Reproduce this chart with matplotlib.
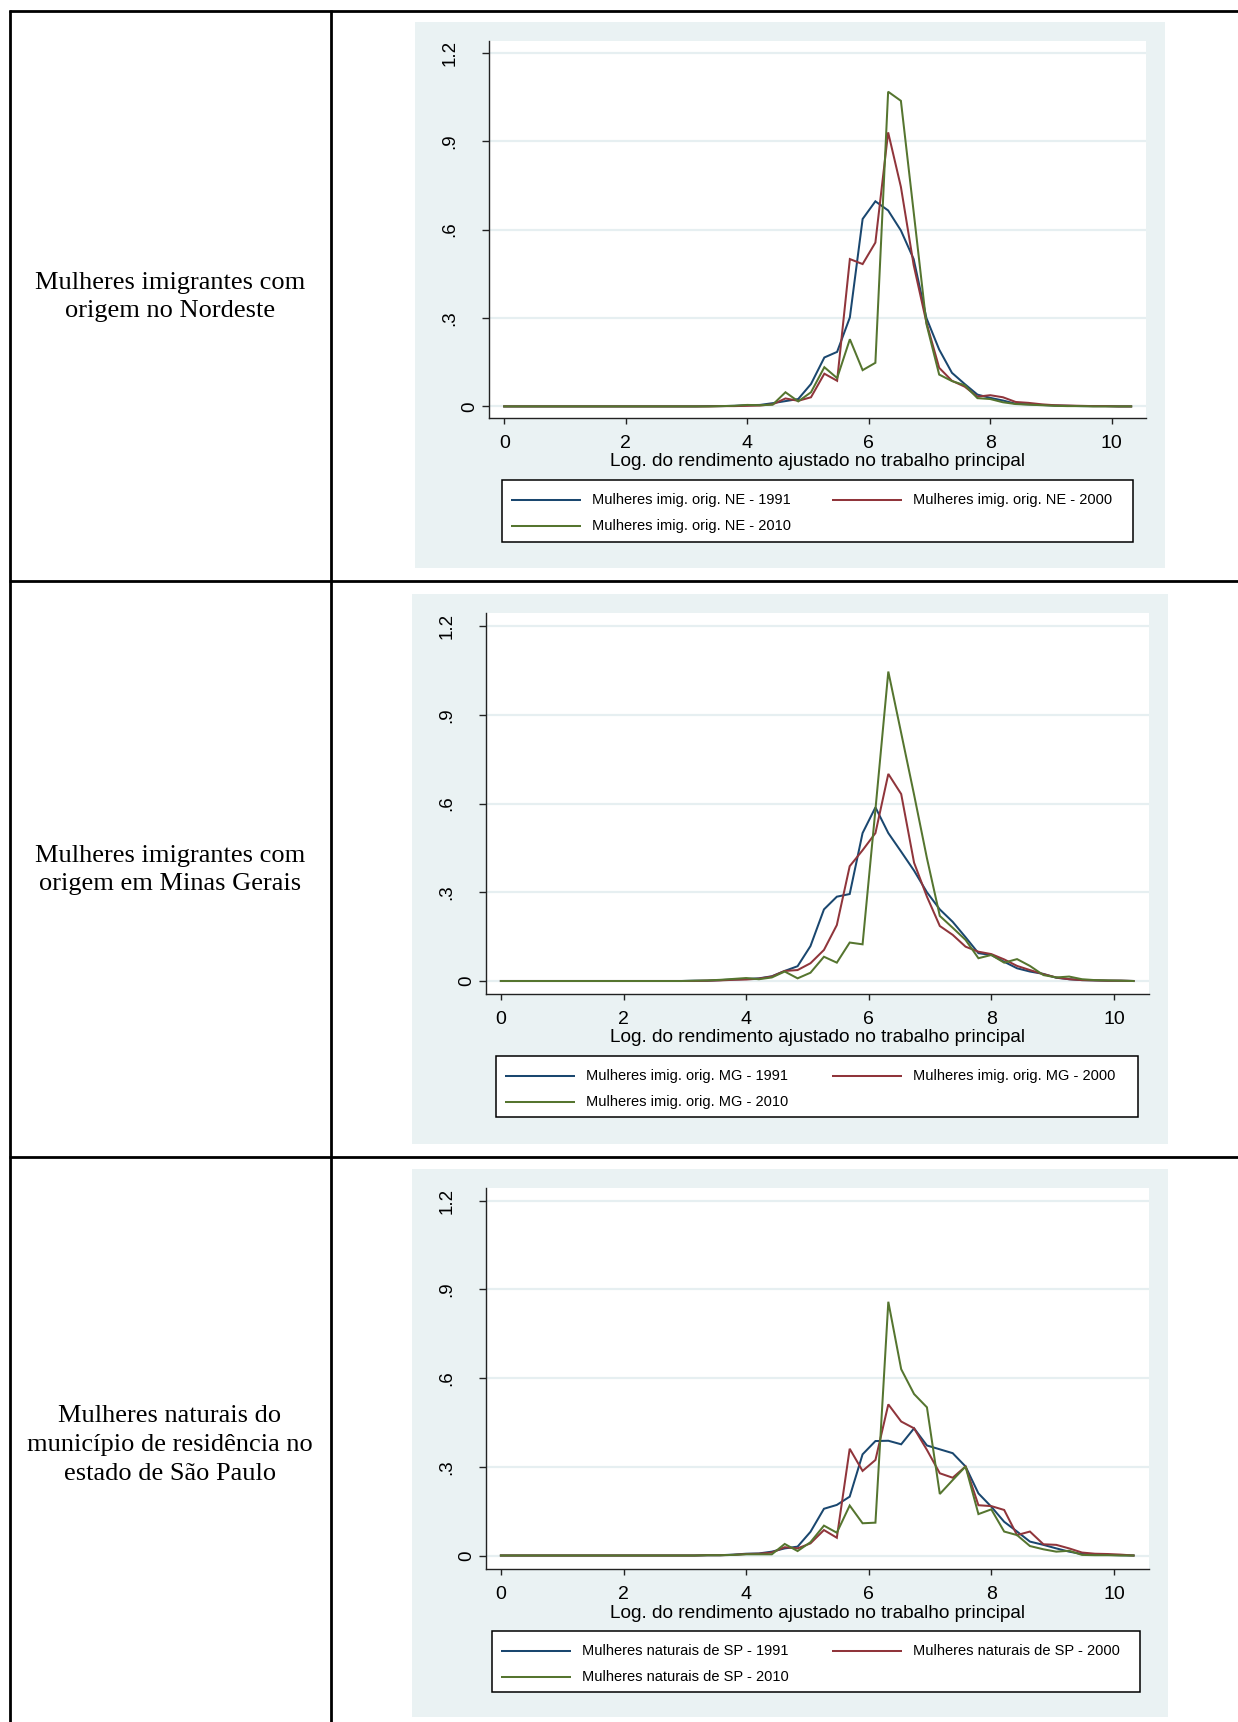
import matplotlib
matplotlib.use("Agg")
import matplotlib.pyplot as plt
from matplotlib.patches import Rectangle

# ---------------------------------------------------------------------------
# Data: kernel density estimates of log adjusted income (50 evaluation points)
# ---------------------------------------------------------------------------
x_grid = [0.00, 0.21, 0.42, 0.63, 0.84, 1.05, 1.26, 1.47, 1.68, 1.90,
          2.11, 2.32, 2.53, 2.74, 2.95, 3.16, 3.37, 3.58, 3.79, 4.00,
          4.21, 4.42, 4.63, 4.84, 5.05, 5.27, 5.48, 5.69, 5.90, 6.11,
          6.32, 6.53, 6.74, 6.95, 7.16, 7.37, 7.58, 7.79, 8.00, 8.21,
          8.42, 8.63, 8.85, 9.06, 9.27, 9.48, 9.69, 9.90, 10.11, 10.32]

ne_1991 = [0, 0, 0, 0, 0, 0, 0, 0, 0, 0, 0, 0, 0, 0, 0, 0.000, 0.001, 0.001, 0.002, 0.004,
           0.005, 0.011, 0.018, 0.025, 0.076, 0.166, 0.185, 0.302, 0.636, 0.696,
           0.665, 0.597, 0.500, 0.300, 0.193, 0.114, 0.076, 0.040, 0.029, 0.020,
           0.009, 0.007, 0.005, 0.003, 0.002, 0.001, 0.001, 0.001, 0.000, 0.000]
ne_2000 = [0, 0, 0, 0, 0, 0, 0, 0, 0, 0, 0, 0, 0, 0, 0, 0.000, 0.000, 0.001, 0.001, 0.002,
           0.003, 0.007, 0.027, 0.019, 0.031, 0.111, 0.087, 0.500, 0.483, 0.556,
           0.930, 0.745, 0.480, 0.285, 0.131, 0.087, 0.067, 0.033, 0.038, 0.031,
           0.015, 0.012, 0.007, 0.004, 0.003, 0.002, 0.001, 0.001, 0.000, 0.000]
ne_2010 = [0, 0, 0, 0, 0, 0, 0, 0, 0, 0, 0, 0, 0, 0, 0, 0.000, 0.000, 0.001, 0.002, 0.005,
           0.004, 0.006, 0.048, 0.017, 0.048, 0.133, 0.096, 0.228, 0.123, 0.148,
           1.068, 1.037, 0.660, 0.280, 0.108, 0.086, 0.072, 0.028, 0.025, 0.014,
           0.008, 0.006, 0.004, 0.002, 0.001, 0.001, 0.000, 0.000, 0.000, 0.000]

mg_1991 = [0, 0, 0, 0, 0, 0, 0, 0, 0, 0, 0, 0, 0, 0, 0, 0.001, 0.001, 0.003, 0.005, 0.007,
           0.009, 0.016, 0.034, 0.050, 0.118, 0.242, 0.285, 0.294, 0.500, 0.587,
           0.500, 0.437, 0.373, 0.300, 0.242, 0.200, 0.148, 0.094, 0.088, 0.065,
           0.043, 0.032, 0.024, 0.011, 0.006, 0.003, 0.002, 0.001, 0.001, 0.000]
mg_2000 = [0, 0, 0, 0, 0, 0, 0, 0, 0, 0, 0, 0, 0, 0, 0, 0.000, 0.001, 0.002, 0.004, 0.005,
           0.008, 0.015, 0.034, 0.037, 0.060, 0.105, 0.189, 0.388, 0.442, 0.500,
           0.700, 0.632, 0.400, 0.285, 0.186, 0.156, 0.116, 0.099, 0.091, 0.073,
           0.051, 0.037, 0.023, 0.012, 0.006, 0.003, 0.002, 0.001, 0.001, 0.000]
mg_2010 = [0, 0, 0, 0, 0, 0, 0, 0, 0, 0, 0, 0, 0, 0, 0, 0.001, 0.002, 0.004, 0.007, 0.010,
           0.006, 0.012, 0.032, 0.009, 0.028, 0.082, 0.062, 0.130, 0.124, 0.580,
           1.046, 0.838, 0.630, 0.415, 0.220, 0.180, 0.139, 0.077, 0.088, 0.062,
           0.074, 0.051, 0.020, 0.012, 0.015, 0.006, 0.003, 0.002, 0.001, 0.000]

sp_1991 = [0, 0, 0, 0, 0, 0, 0, 0, 0, 0, 0, 0, 0, 0, 0, 0.000, 0.001, 0.001, 0.003, 0.006,
           0.007, 0.013, 0.024, 0.030, 0.080, 0.158, 0.171, 0.199, 0.342, 0.387,
           0.388, 0.376, 0.430, 0.372, 0.359, 0.346, 0.301, 0.210, 0.165, 0.114,
           0.081, 0.047, 0.036, 0.024, 0.013, 0.005, 0.003, 0.002, 0.001, 0.000]
sp_2000 = [0, 0, 0, 0, 0, 0, 0, 0, 0, 0, 0, 0, 0, 0, 0, 0.000, 0.001, 0.001, 0.002, 0.005,
           0.006, 0.010, 0.028, 0.024, 0.041, 0.086, 0.060, 0.361, 0.286, 0.323,
           0.511, 0.453, 0.430, 0.357, 0.278, 0.263, 0.301, 0.170, 0.167, 0.154,
           0.069, 0.081, 0.038, 0.036, 0.024, 0.010, 0.006, 0.005, 0.003, 0.000]
sp_2010 = [0, 0, 0, 0, 0, 0, 0, 0, 0, 0, 0, 0, 0, 0, 0, 0.000, 0.001, 0.001, 0.002, 0.004,
           0.004, 0.004, 0.039, 0.015, 0.045, 0.101, 0.077, 0.169, 0.109, 0.111,
           0.858, 0.630, 0.546, 0.501, 0.208, 0.255, 0.301, 0.140, 0.156, 0.081,
           0.069, 0.032, 0.021, 0.013, 0.016, 0.002, 0.001, 0.001, 0.000, 0.000]

row_labels = [
    "Mulheres imigrantes com\norigem no Nordeste",
    "Mulheres imigrantes com\norigem em Minas Gerais",
    "Mulheres naturais do\nmunicípio de residência no\nestado de São Paulo",
]
series_labels = [
    ["Mulheres imig. orig. NE - 1991", "Mulheres imig. orig. NE - 2000",
     "Mulheres imig. orig. NE - 2010"],
    ["Mulheres imig. orig. MG - 1991", "Mulheres imig. orig. MG - 2000",
     "Mulheres imig. orig. MG - 2010"],
    ["Mulheres naturais de SP - 1991", "Mulheres naturais de SP - 2000",
     "Mulheres naturais de SP - 2010"],
]
panel_series = [
    [ne_1991, ne_2000, ne_2010],
    [mg_1991, mg_2000, mg_2010],
    [sp_1991, sp_2000, sp_2010],
]
x_ticks = [0, 2, 4, 6, 8, 10]
y_ticks = [0, 0.3, 0.6, 0.9, 1.2]
y_tick_labels = ["0", ".3", ".6", ".9", "1.2"]
x_title = "Log. do rendimento ajustado no trabalho principal"

# ---------------------------------------------------------------------------
# Styling (Stata s2color look)
# ---------------------------------------------------------------------------
W, H, DPI = 1238, 1722, 100
LINE_COLORS = ["#1A476F", "#90353B", "#55752F"]
GRAPH_BG = "#EAF2F3"
GRID_COLOR = "#E6EFF1"
AXIS_COLOR = "#222222"
SANS = ["Liberation Sans", "DejaVu Sans"]
SERIF = ["Liberation Serif", "DejaVu Serif"]

# Layout in pixels (left, top, right, bottom)
panels = [
    dict(graph=(415, 22, 1165, 568), plot=(489, 41, 1146, 418),
         x0=504.2, x10=1111.7, y0=406.4, y12=52.8,
         legend=(502, 480, 1133, 542), label_y=297),
    dict(graph=(412, 594, 1168, 1144), plot=(486, 613, 1149, 994),
         x0=500.9, x10=1113.9, y0=981.0, y12=626.0,
         legend=(496, 1056, 1138, 1117), label_y=870),
    dict(graph=(412, 1169, 1168, 1717), plot=(486, 1188, 1149, 1569),
         x0=500.9, x10=1113.9, y0=1555.5, y12=1200.6,
         legend=(492, 1631, 1140, 1692), label_y=1445),
]

fig = plt.figure(figsize=(W / DPI, H / DPI), dpi=DPI)
fig.patch.set_facecolor("white")

# Background layer in pixel coordinates: table rules, graph regions, legends
bg = fig.add_axes([0, 0, 1, 1], zorder=0)
bg.set_xlim(0, W)
bg.set_ylim(H, 0)
bg.axis("off")

rule = dict(color="black", lw=2.0, solid_capstyle="butt")
for yy in (11, 581, 1157):
    bg.plot([9, W], [yy, yy], **rule)
for xx in (10, 331):
    bg.plot([xx, xx], [10, H], **rule)


def px_rect(l, t, r, b):
    return [l / W, 1 - b / H, (r - l) / W, (b - t) / H]


for p, series, labels, row_text in zip(panels, panel_series, series_labels, row_labels):
    gl, gt, gr, gb = p["graph"]
    bg.add_patch(Rectangle((gl, gt), gr - gl, gb - gt, facecolor=GRAPH_BG,
                           edgecolor="none", zorder=1))

    # Row caption in the left column
    bg.text(170, p["label_y"], row_text, ha="center", va="center",
            multialignment="center", fontsize=19, family=SERIF,
            linespacing=1.4, zorder=3)

    # Plot axes
    pl, pt, pr, pb = p["plot"]
    ax = fig.add_axes(px_rect(pl, pt, pr, pb), zorder=2)
    ax.set_facecolor("white")
    xppu = (p["x10"] - p["x0"]) / 10.0
    yppu = (p["y0"] - p["y12"]) / 1.2
    ax.set_xlim((pl - p["x0"]) / xppu, (pr - p["x0"]) / xppu)
    ax.set_ylim((p["y0"] - pb) / yppu, (p["y0"] - pt) / yppu)

    for ys, c in zip(series, LINE_COLORS):
        ax.plot(x_grid, ys, color=c, lw=1.45, solid_joinstyle="miter", zorder=3)

    for s in ("top", "right"):
        ax.spines[s].set_visible(False)
    for s in ("left", "bottom"):
        ax.spines[s].set_color(AXIS_COLOR)
        ax.spines[s].set_linewidth(1.0)

    ax.set_yticks(y_ticks)
    ax.set_yticklabels([])
    ax.yaxis.grid(True, color=GRID_COLOR, lw=1.6)
    ax.set_axisbelow(True)
    ax.tick_params(axis="y", direction="out", length=5.2, width=1.0,
                   color=AXIS_COLOR)
    for val, lab in zip(y_ticks, y_tick_labels):
        off = -19 if lab == "0" else -39
        ax.annotate(lab, xy=(0, val), xycoords=("axes fraction", "data"),
                    xytext=(off * 72 / DPI, 0), textcoords="offset points",
                    rotation=90, ha="center", va="center", fontsize=13.5,
                    family=SANS, annotation_clip=False)

    ax.set_xticks(x_ticks)
    ax.set_xticklabels([str(v) for v in x_ticks], fontsize=14, family=SANS)
    ax.tick_params(axis="x", direction="out", length=4.5, width=1.0,
                   color=AXIS_COLOR, pad=7.5)

    bg.text((pl + pr) / 2, pb + 44, x_title, ha="center", va="center",
            fontsize=13.7, family=SANS, zorder=3)

    # Legend box with two columns
    ll, lt, lr, lb = p["legend"]
    bg.add_patch(Rectangle((ll, lt), lr - ll, lb - lt, facecolor="white",
                           edgecolor="black", lw=1.1, zorder=2))
    row1, row2 = lt + 20, lt + 46
    entries = [(ll + 9, row1), (832, row1), (ll + 9, row2)]
    for (kx, ky), lab, c in zip(entries, labels, LINE_COLORS):
        bg.plot([kx, kx + 70], [ky, ky], color=c, lw=1.45, zorder=3,
                solid_capstyle="butt")
        bg.text(kx + 81, ky, lab, ha="left", va="center", fontsize=10.5,
                family=SANS, zorder=3)

fig.savefig("out.png", dpi=DPI, facecolor="white")
